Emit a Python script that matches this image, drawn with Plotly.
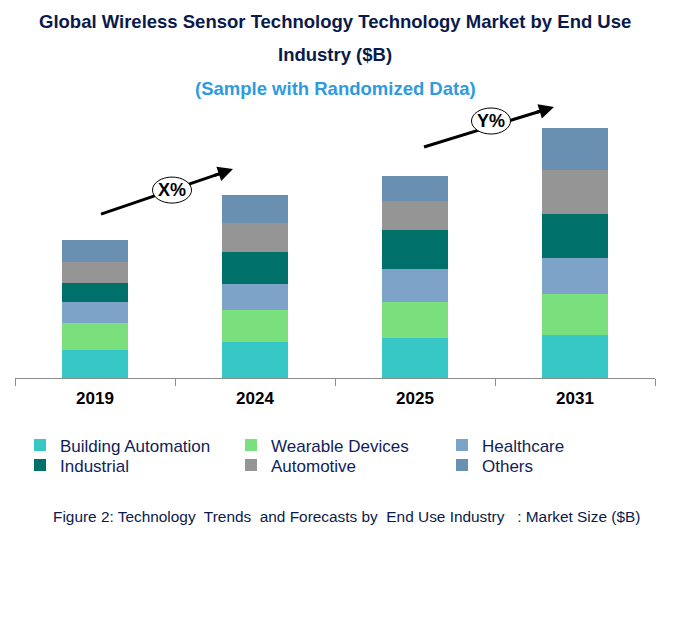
import plotly.graph_objects as go

# market size by end use industry ($B)
years = ["2019", "2024", "2025", "2031"]
building_automation = [2.8, 3.6, 4.0, 4.3]
wearable_devices = [2.7, 3.2, 3.6, 4.1]
healthcare = [2.1, 2.6, 3.3, 3.6]
industrial = [1.9, 3.2, 3.9, 4.4]
automotive = [2.1, 2.9, 2.9, 4.4]
others = [2.2, 2.8, 2.5, 4.2]

series = [
    ("Building Automation", building_automation, "#37C7C4", "legend"),
    ("Wearable Devices", wearable_devices, "#79E07D", "legend"),
    ("Healthcare", healthcare, "#7EA3C8", "legend"),
    ("Industrial", industrial, "#00706A", "legend2"),
    ("Automotive", automotive, "#959595", "legend2"),
    ("Others", others, "#6A90B1", "legend2"),
]

# page body has an 8px margin, so the figure is drawn 8px smaller
OFF = 8
W, H = 697 - OFF, 641 - OFF
PLOT_L, PLOT_R, PLOT_T, PLOT_B = 15, 655, 110, 377.7   # wanted, in window pixels
L, R = PLOT_L - OFF, W - (PLOT_R - OFF)
T, B = PLOT_T - OFF, H - (PLOT_B - OFF)
navy = "#0B1A4A"
font = "Liberation Sans, Arial, sans-serif"

fig = go.Figure()
for name, vals, col, leg in series:
    fig.add_trace(go.Bar(x=years, y=vals, name=name, marker_color=col,
                         marker_line_width=0, legend=leg))


def px(x, y):
    # window pixel position -> paper coords
    return (x - PLOT_L) / (PLOT_R - PLOT_L), (PLOT_B - y) / (PLOT_B - PLOT_T)


anns = []
shapes = []

for txt, y, col in [("Global Wireless Sensor Technology Technology Market by End Use", 22, navy),
                    ("Industry ($B)", 55, navy),
                    ("(Sample with Randomized Data)", 89, "#2E9BDF")]:
    ax_, ay_ = px(335, y)
    anns.append(dict(text="<b>%s</b>" % txt, xref="paper", yref="paper",
                     x=ax_, y=ay_, showarrow=False,
                     xanchor="center", yanchor="middle",
                     font=dict(size=18.5, color=col, family=font)))

# growth arrows with CAGR bubbles
for (x0, y0, x1, y1), (cx, cy), lab in [((101, 214, 233, 169), (172, 190), "X%"),
                                        ((424, 147, 554, 107), (491, 121), "Y%")]:
    tx, ty = px(x0, y0)
    mx_, my_ = px(x1 - (x1 - x0) * 0.1, y1 - (y1 - y0) * 0.1)
    shapes.append(dict(type="line", xref="paper", yref="paper",
                       x0=tx, y0=ty, x1=mx_, y1=my_,
                       line=dict(color="black", width=3)))
    hx, hy = px(x1, y1)
    anns.append(dict(x=hx, y=hy, ax=(x0 - x1) * 0.15, ay=(y0 - y1) * 0.15,
                     xref="paper", yref="paper", axref="pixel", ayref="pixel",
                     text="", showarrow=True, standoff=0,
                     arrowhead=2, arrowsize=1, arrowwidth=3, arrowcolor="black"))
    ex0, ey0 = px(cx - 19.5, cy + 13)
    ex1, ey1 = px(cx + 19.5, cy - 13)
    shapes.append(dict(type="circle", xref="paper", yref="paper",
                       x0=ex0, y0=ey0, x1=ex1, y1=ey1,
                       fillcolor="white", line=dict(color="black", width=1)))
    lx_, ly_ = px(cx, cy)
    anns.append(dict(text="<b>%s</b>" % lab, xref="paper", yref="paper", x=lx_, y=ly_,
                     xanchor="center", yanchor="middle", showarrow=False,
                     font=dict(size=18, color="black", family=font)))

cx, cy = px(346.5, 516)
anns.append(dict(text="Figure 2: Technology\u00a0 Trends\u00a0 and Forecasts by\u00a0 End Use Industry\u00a0\u00a0 : Market Size ($B)",
                 xref="paper", yref="paper", x=cx, y=cy, showarrow=False,
                 xanchor="center", yanchor="middle",
                 font=dict(size=15.4, color=navy, family=font)))

legend_style = dict(orientation="h", xanchor="left", yanchor="middle",
                    traceorder="normal", entrywidth=166, entrywidthmode="pixels",
                    itemwidth=30, font=dict(size=17, color="#111E5A", family=font),
                    bgcolor="rgba(0,0,0,0)")
lg1x, lg1y = px(20, 445)
lg2x, lg2y = px(20, 465)

fig.update_layout(
    width=W, height=H,
    margin=dict(l=L, r=R, t=T, b=B),
    barmode="stack", bargap=0.59,
    plot_bgcolor="white", paper_bgcolor="white",
    font=dict(family=font),
    showlegend=True,
    legend=dict(x=lg1x, y=lg1y, **legend_style),
    legend2=dict(x=lg2x, y=lg2y, **legend_style),
    annotations=anns, shapes=shapes,
)
fig.update_xaxes(showline=True, linecolor="#8C8C8C", linewidth=1,
                 ticks="outside", tickson="boundaries", ticklen=7, tickcolor="#8C8C8C",
                 tickfont=dict(size=17, color="black", family=font),
                 ticklabelstandoff=5,
                 tickprefix="<b>", ticksuffix="</b>", showgrid=False)
fig.update_yaxes(range=[0, 26.8], visible=False, showgrid=False)

fig.write_html("out.html")
